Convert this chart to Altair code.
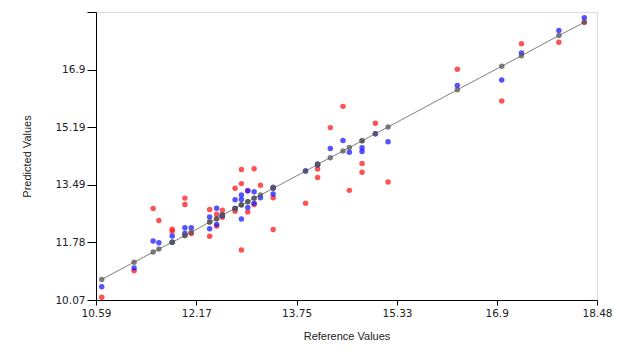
import altair as alt
import pandas as pd

# Reference (x) values of the samples
ref_x = [10.68, 11.19, 11.49, 11.58, 11.79, 11.79, 11.99, 11.99, 12.09, 12.38,
         12.38, 12.49, 12.49, 12.58, 12.58, 12.78, 12.78, 12.88, 12.88, 12.88,
         12.98, 12.98, 13.08, 13.08, 13.18, 13.38, 13.38, 13.89, 14.08, 14.08,
         14.28, 14.48, 14.58, 14.78, 14.78, 14.99, 15.19, 16.28, 16.98, 17.29,
         17.88, 18.28]
# Fitted line values (gray)
fit_y = [10.68, 11.19, 11.49, 11.58, 11.78, 11.78, 11.98, 11.98, 12.08, 12.38,
         12.38, 12.48, 12.48, 12.59, 12.59, 12.78, 12.78, 12.89, 12.89, 12.89,
         12.98, 12.98, 13.09, 13.09, 13.18, 13.38, 13.38, 13.89, 14.09, 14.09,
         14.29, 14.49, 14.59, 14.79, 14.79, 15.00, 15.20, 16.30, 17.00, 17.31,
         17.91, 18.30]
# Calibration predictions (blue)
cal_y = [10.46, 11.02, 11.82, 11.77, 11.97, 11.78, 12.21, 12.05, 12.21, 12.53,
         12.18, 12.79, 12.31, 12.59, 12.57, 13.04, 12.78, 13.18, 13.05, 12.47,
         13.31, 12.81, 13.28, 12.94, 13.10, 13.21, 13.41, 13.90, 14.10, 14.07,
         14.56, 14.80, 14.45, 14.58, 14.47, 15.00, 14.76, 16.43, 16.59, 17.39,
         18.06, 18.44]
# Validation predictions (red)
val_y = [10.15, 10.94, 12.78, 12.43, 12.17, 12.11, 13.09, 12.90, 12.04, 12.75,
         11.96, 12.61, 12.26, 12.73, 12.52, 13.38, 12.70, 13.94, 13.52, 11.55,
         13.31, 12.68, 13.96, 12.90, 13.47, 13.10, 12.16, 12.94, 13.95, 13.70,
         15.18, 15.81, 13.32, 14.12, 13.86, 15.31, 13.57, 16.91, 15.97, 17.67,
         17.71, 18.30]

x_ticks = [10.59, 12.17, 13.75, 15.33, 16.9, 18.48]
y_ticks = [10.07, 11.78, 13.49, 15.19, 16.9, 18.6075]
x_domain = [10.59, 18.48]
y_domain = [10.07, 18.6075]

series_names = ["val", "cal", "fit"]
series_colors = ["#ff1a1a", "#1a1aff", "#555555"]

rows = []
for name, ys in zip(series_names, [val_y, cal_y, fit_y]):
    for xv, yv in zip(ref_x, ys):
        rows.append({"x": xv, "y": yv, "s": name})
df = pd.DataFrame(rows)
line_df = pd.DataFrame({"x": ref_x, "y": fit_y})

LFONT = "DejaVu Sans"
TFONT = "Liberation Sans"

xenc = alt.X("x:Q", scale=alt.Scale(domain=x_domain, nice=False, zero=False),
             axis=alt.Axis(values=x_ticks, title="Reference Values", format=".4~r",
                           grid=False, tickSize=5, labelPadding=3, titlePadding=12,
                           domainColor="black", tickColor="black",
                           labelColor="#222", titleColor="#222",
                           labelFont=LFONT, titleFont=TFONT, labelFontSize=10.5,
                           titleFontSize=11, titleFontWeight="normal",
                           labelFlush=False))
yenc = alt.Y("y:Q", scale=alt.Scale(domain=y_domain, nice=False, zero=False),
             axis=alt.Axis(values=y_ticks, title="Predicted Values", format=".4~r",
                           labelExpr="datum.value > 18.5 ? '' : datum.label",
                           grid=False, tickSize=9, labelPadding=2, titlePadding=22,
                           domainColor="black", tickColor="black",
                           labelColor="#222", titleColor="#222",
                           labelFont=LFONT, titleFont=TFONT, labelFontSize=10.5,
                           titleFontSize=11, titleFontWeight="normal",
                           labelFlush=False))

line = alt.Chart(line_df).mark_line(color="#808080", strokeWidth=1).encode(
    x=xenc, y=yenc)

points = alt.Chart(df).mark_circle(size=30, opacity=0.75).encode(
    x="x:Q", y="y:Q",
    color=alt.Color("s:N", scale=alt.Scale(domain=series_names, range=series_colors),
                    legend=None),
    order=alt.Order("order:Q"),
).transform_calculate(order="datum.s == 'val' ? 0 : (datum.s == 'cal' ? 1 : 2)")

chart = alt.layer(line, points).properties(
    width=501, height=288,
    autosize=alt.AutoSizeParams(type="none"),
    padding={"left": 96, "top": 12, "right": 41, "bottom": 56},
).configure_view(stroke=None).configure(background="white")

chart.save("out.html", embed_options={"renderer": "svg", "actions": False})
